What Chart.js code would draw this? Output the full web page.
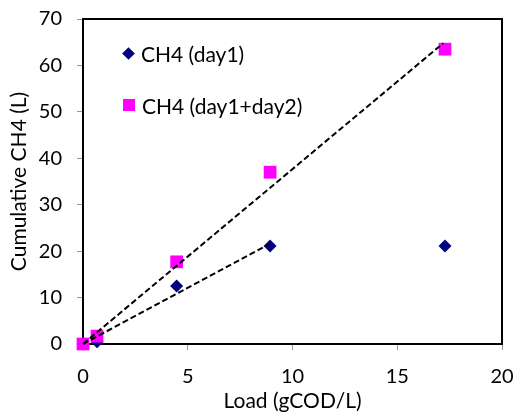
<!DOCTYPE html>
<html>
<head>
<meta charset="utf-8">
<script src="https://cdn.jsdelivr.net/npm/chart.js@4"></script>
<style>
  html, body { margin: 0; padding: 0; background: #fff; }
  #wrap { position: relative; width: 517px; height: 412px; }
  .key { position: absolute; left: 122px; font: 21px Lato, sans-serif; color: #000;
    display: flex; align-items: center; white-space: nowrap; height: 20px; }
  .key i { display: inline-block; }
  .dia { width: 9px; height: 9px; background: #000080; transform: rotate(45deg); margin: 0 8px 0 2px; }
  .sq { width: 12px; height: 12px; background: #ff00ff; margin: 0 7px 0 1px; }
</style>
</head>
<body>
<div id="wrap">
  <canvas id="c"></canvas>
  <div class="key" id="k1" style="top:43px"><i class="dia"></i><span></span></div>
  <div class="key" id="k2" style="top:95px"><i class="sq"></i><span></span></div>
</div>
<script>
"use strict";
const $ = (id) => document.getElementById(id);

// values
const load = [0, 0.67, 4.47, 8.93, 17.28];
const day1 = [0, 0.5, 12.5, 21.1, 21.1];
const day12 = [0, 1.7, 17.7, 37.0, 63.5];
const trendX1 = [0, 8.93], trendY1 = [0, 21.6];
const trendX2 = [0, 17.2], trendY2 = [0, 64.8];
const names = ["CH4 (day1)", "CH4 (day1+day2)"];
const xTitle = "Load (gCOD/L)", yTitle = "Cumulative CH4 (L)";

const pts = (xs, ys) => xs.map((x, i) => ({ x, y: ys[i] }));
const TICK = { family: "Lato, sans-serif", size: 20 };
const TITLE = { family: "Lato, sans-serif", size: 21, lineHeight: 1.0 };

$("k1").querySelector("span").textContent = names[0];
$("k2").querySelector("span").textContent = names[1];

// top/right edges of the plot frame
const frame = {
  id: "frame",
  beforeDatasetsDraw(chart) {
    const a = chart.chartArea, ctx = chart.ctx;
    ctx.save();
    ctx.strokeStyle = "#000";
    ctx.lineWidth = 2;
    ctx.strokeRect(a.left, a.top, a.right - a.left, a.bottom - a.top);
    ctx.restore();
  },
};

const dashed = { type: "line", showLine: true, borderColor: "#000", borderWidth: 2,
  borderDash: [6, 3], pointRadius: 0, fill: false, clip: false, order: 0 };

// pin the plot box: no extra room for overhanging tick labels
const noPad = (s) => { s.paddingLeft = 0; s.paddingRight = 0; s.paddingTop = 0; s.paddingBottom = 0; };

new Chart($("c"), {
  type: "scatter",
  data: { datasets: [
    { ...dashed, label: "trend1", data: pts(trendX1, trendY1) },
    { ...dashed, label: "trend2", data: pts(trendX2, trendY2) },
    { label: names[1], data: pts(load, day12), pointStyle: "rect", pointRadius: 9,
      backgroundColor: "#ff00ff", borderWidth: 0, clip: false, order: 1 },
    { label: names[0], data: pts(load, day1), pointStyle: "rectRot", pointRadius: 6.5,
      backgroundColor: "#000080", borderWidth: 0, clip: false, order: 2 },
  ] },
  options: {
    responsive: true, maintainAspectRatio: false, animation: false,
    layout: { padding: { left: 0, top: 19, right: 15, bottom: 0 } },
    plugins: { legend: { display: false }, tooltip: { enabled: false } },
    scales: {
      x: { type: "linear", min: 0, max: 20,
        ticks: { stepSize: 5, color: "#000", font: TICK, padding: 15, maxRotation: 0 },
        grid: { drawOnChartArea: false, tickLength: 6, color: "#999" },
        border: { color: "#000", width: 2 },
        title: { display: true, text: xTitle, color: "#000", font: TITLE, padding: { top: 0, bottom: 0 } },
        afterFit: (s) => { s.height = 68; noPad(s); } },
      y: { min: 0, max: 70,
        ticks: { stepSize: 10, color: "#000", font: TICK, padding: 15 },
        grid: { drawOnChartArea: false, tickLength: 6, color: "#999" },
        border: { color: "#000", width: 2 },
        title: { display: true, text: yTitle, color: "#000", font: TITLE, padding: { top: 9, bottom: 0 } },
        afterFit: (s) => { s.width = 83; noPad(s); } },
    },
  },
  plugins: [frame],
});
</script>
</body>
</html>
